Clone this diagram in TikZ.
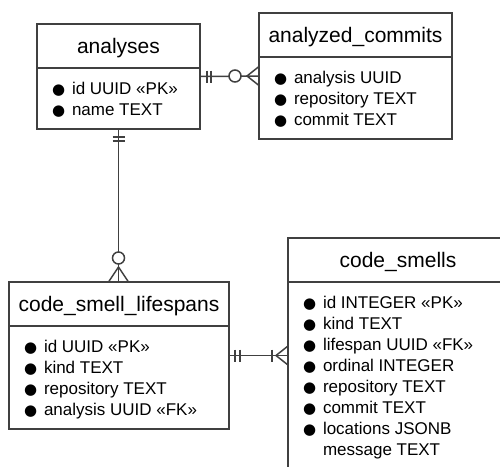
\documentclass[tikz,border=0pt]{standalone}
\usepackage{fontspec}
\setmainfont{Liberation Sans}
\newfontfamily\symfont{DejaVu Sans}
\usepackage{tikz}
\usetikzlibrary{shapes}
\usetikzlibrary{calc}

\definecolor{linecol}{HTML}{404040}
% table title and one field line (struts fix the row pitch)
\newcommand{\headline}[1]{\makebox[120pt][c]{\fontsize{21}{25}\selectfont\rule[-5pt]{0pt}{25pt}#1}}
\newcommand{\fieldmark}{\rule[-4pt]{0pt}{21pt}\makebox[20pt][l]{\symfont\fontsize{15}{15}\selectfont ●}}
\newcommand{\fieldgap}{\rule[-4pt]{0pt}{21pt}\hspace*{20pt}}

\begin{document}
\begin{tikzpicture}[
        x=1pt, y=-1pt,
        entity/.style = {draw=linecol, line width=2pt, rectangle split, rectangle split parts=2,
            rectangle split part align={center,left}, align=left, anchor=north west,
            inner xsep=15pt, inner ysep=8.5pt, outer sep=0pt,
            font=\fontsize{17}{21}\selectfont},
        link/.style = {draw=linecol, line width=1.5pt},
        ]
    \useasboundingbox (0,0) rectangle (500,466);
    \clip (0,0) rectangle (500,466);

    \node[entity, minimum width=163pt] (analyses) at (37,24)
        {\headline{analyses}
         \nodepart{two}\fieldmark id UUID «PK»\\\fieldmark name TEXT};
    \node[entity, minimum width=193pt] (commits) at (259,13)
        {\headline{analyzed\_commits}
         \nodepart{two}\fieldmark analysis UUID\\\fieldmark repository TEXT\\\fieldmark commit TEXT};
    \node[entity, minimum width=220pt] (lifespans) at (9,282)
        {\headline{code\_smell\_lifespans}
         \nodepart{two}\fieldmark id UUID «PK»\\\fieldmark kind TEXT\\\fieldmark repository TEXT\\
         \fieldmark analysis UUID «FK»};
    \node[entity, minimum width=220pt] (smells) at (288,238)
        {\headline{code\_smells}
         \nodepart{two}\fieldmark id INTEGER «PK»\\\fieldmark kind TEXT\\\fieldmark lifespan UUID «FK»\\
         \fieldmark ordinal INTEGER\\\fieldmark repository TEXT\\\fieldmark commit TEXT\\
         \fieldmark locations JSONB\\\fieldgap message TEXT\rule[-40pt]{0pt}{40pt}};

    % analyses -- analyzed_commits
    \draw[link] (analyses.east) -- (commits.west);
    \draw[link] ($(analyses.east)+(7,-6)$) -- ++(0,12);
    \draw[link] ($(analyses.east)+(11,-6)$) -- ++(0,12);
    \draw[link, fill=white] ($(commits.west)+(-24,0)$) circle (6pt);
    \draw[link] ($(commits.west)+(0,-9.5)$) -- ($(commits.west)+(-12,0)$) -- ($(commits.west)+(0,9.5)$);

    % analyses -- code_smell_lifespans
    \coordinate (lifeTop) at (analyses.south |- lifespans.north);
    \draw[link] (analyses.south) -- (lifeTop);
    \draw[link] ($(analyses.south)+(-6,8)$) -- ++(12,0);
    \draw[link] ($(analyses.south)+(-6,12)$) -- ++(12,0);
    \draw[link, fill=white] ($(lifeTop)+(0,-24)$) circle (6pt);
    \draw[link] ($(lifeTop)+(-10,0)$) -- ($(lifeTop)+(0,-15)$) -- ($(lifeTop)+(10,0)$);

    % code_smell_lifespans -- code_smells
    \coordinate (smellsIn) at (lifespans.east -| smells.west);
    \draw[link] (lifespans.east) -- (smellsIn);
    \draw[link] ($(lifespans.east)+(6,-6)$) -- ++(0,12);
    \draw[link] ($(lifespans.east)+(11,-6)$) -- ++(0,12);
    \draw[link] ($(smellsIn)+(-16,-6)$) -- ++(0,12);
    \draw[link] ($(smellsIn)+(0,-9.5)$) -- ($(smellsIn)+(-12,0)$) -- ($(smellsIn)+(0,9.5)$);
\end{tikzpicture}
\end{document}
